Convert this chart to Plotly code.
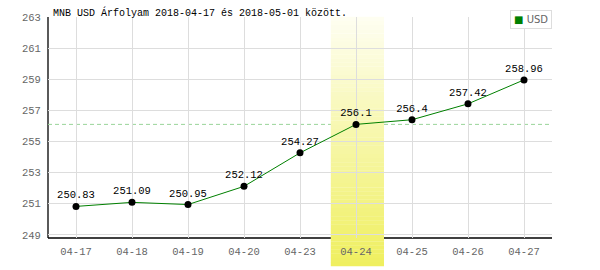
import plotly.graph_objects as go

dates = ["04-17", "04-18", "04-19", "04-20", "04-23", "04-24", "04-25", "04-26", "04-27"]
rates = [250.83, 251.09, 250.95, 252.12, 254.27, 256.1, 256.4, 257.42, 258.96]
labels = ["250.83", "251.09", "250.95", "252.12", "254.27", "256.1", "256.4", "257.42", "258.96"]
highlight_index = 5
series_name = "USD"
title_text = "MNB USD Árfolyam 2018-04-17 és 2018-05-01 között."
y_ticks = [249, 251, 253, 255, 257, 259, 261, 263]

MONO = "Liberation Mono"

fig = go.Figure()
fig.add_trace(go.Scatter(
    x=list(range(len(dates))), y=rates, mode="lines+markers+text",
    text=labels, textposition="top center",
    textfont=dict(family=MONO, size=10.5, color="#000"),
    line=dict(color="#008000", width=1),
    marker=dict(color="#000", size=7),
    showlegend=False, cliponaxis=False,
))

shapes = []
# axis lines (drawn as shapes so the highlight band can cover them)
shapes.append(dict(type="line", xref="paper", yref="paper", x0=0, x1=1, y0=0, y1=0,
                   line=dict(color="#000", width=1.3), layer="below"))
shapes.append(dict(type="line", xref="paper", yref="paper", x0=0, x1=0, y0=0, y1=1,
                   line=dict(color="#000", width=1.3), layer="below"))
# dashed reference line at the highlighted day's rate
shapes.append(dict(type="line", xref="paper", yref="y", x0=0, x1=1,
                   y0=rates[highlight_index], y1=rates[highlight_index],
                   line=dict(color="#99d499", width=1, dash="4px,3px"), layer="below"))
# gradient highlight band
n = 60
top_c = (254, 254, 242)
bot_c = (239, 239, 94)
y_top, y_bot = 1.0, -0.128
for i in range(n):
    t = (i + 0.5) / n
    c = tuple(int(round(top_c[k] + (bot_c[k] - top_c[k]) * t)) for k in range(3))
    ya = y_top + (y_bot - y_top) * i / n
    yb = y_top + (y_bot - y_top) * (i + 1) / n
    shapes.append(dict(type="rect", xref="x", yref="paper",
                       x0=highlight_index - 0.45, x1=highlight_index + 0.5,
                       y0=yb, y1=ya + 0.001, fillcolor="rgb(%d,%d,%d)" % c,
                       line=dict(width=0), layer="between"))

fig.update_layout(
    width=600, height=270,
    margin=dict(l=48, r=48, t=13, b=32),
    paper_bgcolor="#fff", plot_bgcolor="#fff",
    shapes=shapes,
    xaxis=dict(
        tickmode="array", tickvals=list(range(len(dates))), ticktext=dates,
        range=[-0.5, len(dates) - 0.5],
        showgrid=True, gridcolor="#ddd", tickson="boundaries",
        showline=False, zeroline=False,
        ticks="outside", ticklen=3, tickcolor="rgba(0,0,0,0)",
        tickfont=dict(family=MONO, size=10.5, color="#666"),
        fixedrange=True,
    ),
    yaxis=dict(
        range=[248.8, 263], tickmode="array", tickvals=y_ticks,
        showgrid=True, gridcolor="#ddd", gridwidth=1,
        showline=False, zeroline=False,
        ticks="outside", ticklen=4, tickcolor="rgba(0,0,0,0)",
        tickfont=dict(family=MONO, size=10.5, color="#666"),
    ),
    annotations=[
        dict(text=title_text, xref="paper", yref="paper", x=0, y=1.02,
             xanchor="left", yanchor="middle", xshift=3, showarrow=False,
             font=dict(family=MONO, size=10, color="#000")),
        dict(text="<span style='color:#008000'>■</span><span style='color:#666'> " + series_name + "</span>",
             xref="paper", yref="paper", x=1, y=0.99, xanchor="right", yanchor="middle",
             showarrow=False, bordercolor="#ddd", borderwidth=1, borderpad=3, bgcolor="#fff",
             font=dict(family="DejaVu Sans", size=10)),
    ],
)

fig.write_html("out.html")
